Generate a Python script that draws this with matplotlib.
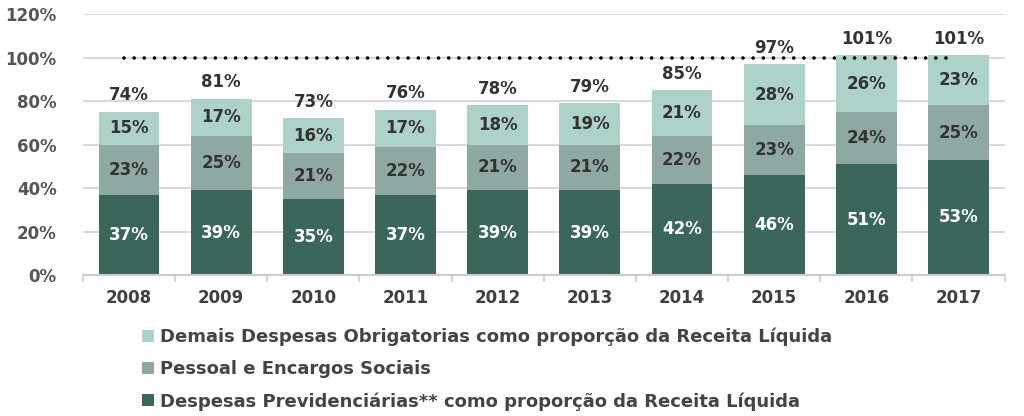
import matplotlib
matplotlib.use("Agg")
import matplotlib.pyplot as plt
import numpy as np

years = ["2008", "2009", "2010", "2011", "2012", "2013", "2014", "2015", "2016", "2017"]
previdencia = [37, 39, 35, 37, 39, 39, 42, 46, 51, 53]
pessoal = [23, 25, 21, 22, 21, 21, 22, 23, 24, 25]
demais = [15, 17, 16, 17, 18, 19, 21, 28, 26, 23]
totals = [74, 81, 73, 76, 78, 79, 85, 97, 101, 101]

labels = [
    "Despesas Previdenciárias** como proporção da Receita Líquida",
    "Pessoal e Encargos Sociais",
    "Demais Despesas Obrigatorias como proporção da Receita Líquida",
]
colors = ["#3a665c", "#8ea9a3", "#acd2ca"]
text_colors = ["white", "#333333", "#333333"]

plt.rcParams["font.family"] = ["DejaVu Sans"]
plt.rcParams["font.weight"] = "bold"

fig = plt.figure(figsize=(10.24, 4.16), dpi=100)
ax = fig.add_axes([0.081, 0.339, 0.900, 0.627])

x = np.arange(len(years))
w = 0.66
bottom = np.zeros(len(years))
handles = []
for vals, col, tcol, lab in zip([previdencia, pessoal, demais], colors, text_colors, labels):
    vals = np.array(vals, dtype=float)
    bars = ax.bar(x, vals, w, bottom=bottom, color=col, label=lab, zorder=2)
    handles.append(bars)
    for xi, b, v in zip(x, bottom, vals):
        ax.text(xi, b + v / 2, f"{int(v)}%", ha="center", va="center",
                color=tcol, fontsize=12, fontweight="bold", zorder=3)
    bottom += vals

for xi, top, t in zip(x, bottom, totals):
    ax.text(xi, top + 3.5, f"{t}%", ha="center", va="bottom",
            color="#333333", fontsize=12, fontweight="bold")

# 100% reference line
ax.plot([-0.05, 8.93], [100, 100], ls=(0, (0.01, 2.8)), color="black", lw=2.6,
        dash_capstyle="round", zorder=4)

ax.set_ylim(0, 120)
ax.set_xlim(-0.5, len(years) - 0.5)
ax.set_yticks(range(0, 121, 20))
ax.set_yticklabels([f"{v}%" for v in range(0, 121, 20)], color="#555555", fontsize=12, fontweight="bold")
ax.set_xticks(x)
ax.set_xticklabels(years, color="#404040", fontsize=12, fontweight="bold")
ax.set_xticks(np.arange(-0.5, len(years)), minor=True)
ax.tick_params(axis="x", which="major", length=0, pad=10)
ax.tick_params(axis="x", which="minor", length=5, color="#cccccc", width=1.2)
ax.tick_params(axis="y", length=0, pad=19)
ax.grid(axis="y", color="#d9d9d9", lw=1.5, zorder=0)
for s in ["top", "right", "left"]:
    ax.spines[s].set_visible(False)
ax.spines["bottom"].set_color("#cccccc")
ax.spines["bottom"].set_linewidth(1.5)

fig.legend(handles[::-1], labels[::-1], loc="upper left", bbox_to_anchor=(0.132, 0.23),
           frameon=False, fontsize=13, labelcolor="#444444", handlelength=0.65,
           handleheight=0.65, handletextpad=0.3, labelspacing=0.78, borderaxespad=0)

fig.savefig("out.png", dpi=100)
